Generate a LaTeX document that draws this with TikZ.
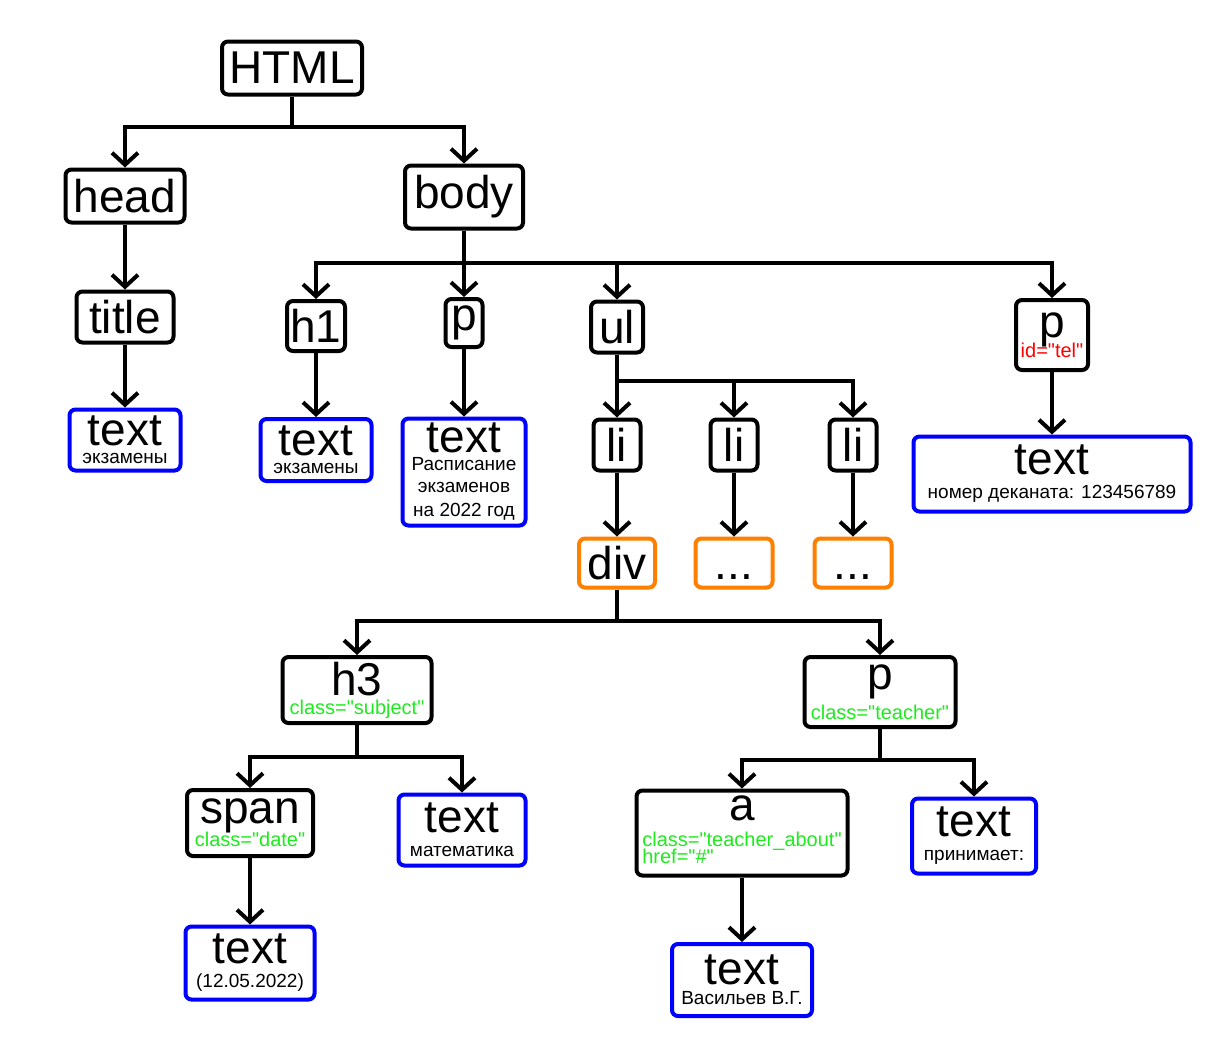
\documentclass[tikz,border=0pt]{standalone}
\usepackage{fontspec}
\setmainfont{Liberation Sans}[Ligatures=TeXOff]
\usetikzlibrary{arrows.meta}

\definecolor{txtblue}{RGB}{0,0,255}
\definecolor{blkorange}{RGB}{255,128,0}
\definecolor{attrgreen}{RGB}{30,235,30}
\definecolor{attrred}{RGB}{255,0,0}

\newcommand\smalltxt{\fontsize{9.5}{11.5}\selectfont}
\newcommand\attrtxt{\fontsize{10}{12}\selectfont}

\begin{document}
\begin{tikzpicture}[
  x=0.5pt, y=-0.5pt,
  every node/.style={font=\fontsize{23}{23}\selectfont},
  tag/.style={draw, line width=2pt, rounded corners=3pt, inner sep=0pt, align=center},
  txt/.style={tag, draw=txtblue},
  blk/.style={tag, draw=blkorange},
  wh/.style 2 args={minimum width=#1, minimum height=#2},
  arr/.style={-{Straight Barb[length=6pt, width=13pt]}, line width=2pt}
]
\useasboundingbox (0,0) rectangle (1216,1040);

% ---- ROOT ----
\node[tag, wh={70pt}{26.5pt}] (html) at (292,68) {HTML};
\node[tag, wh={59.5pt}{26.5pt}] (head) at (125,196) {head};
\node[tag, wh={59pt}{31.5pt}] (body) at (464,197) {body};

% ---- HEAD ----
\node[tag, wh={48.5pt}{25.5pt}] (title) at (125,317) {title};
\node[txt, wh={55.5pt}{30.5pt}] (titletext) at (125,440) {text\\[-14pt]\smalltxt экзамены};

% ---- BODY ----
\node[tag, wh={29pt}{25pt}] (h1) at (316,326) {h1};
\node[tag, wh={18.5pt}{24pt}] (bp) at (464,323) {p};
\node[tag, wh={26pt}{25.5pt}] (ul) at (617,327) {ul};
\node[tag, wh={36pt}{35pt}] (tel) at (1052,335) {p\\[-13pt]\attrtxt\color{attrred}id="tel"};

\node[txt, wh={55.5pt}{31pt}] (h1text) at (316,450) {text\\[-14pt]\smalltxt экзамены};
\node[txt, wh={61.5pt}{53.5pt}] (bptext) at (464,472) {text\\[-14pt]\smalltxt Расписание\\[-12pt]\smalltxt экзаменов\\[-11pt]\smalltxt на 2022 год};
\node[txt, wh={138.5pt}{37.5pt}] (teltext) at (1052,474) {text\\[-11pt]\smalltxt номер деканата: 123456789};

% ---- LIST ----
\node[tag, wh={23.5pt}{25.5pt}] (lia) at (617,445) {li};
\node[tag, wh={23.5pt}{25.5pt}] (lib) at (734,445) {li};
\node[tag, wh={23.5pt}{25.5pt}] (lic) at (853,445) {li};

\node[blk, wh={38pt}{24.5pt}] (div) at (617,563) {div};
\node[blk, wh={38.5pt}{24.5pt}] (dotsa) at (734,563) {\vphantom{div}...};
\node[blk, wh={38.5pt}{24.5pt}] (dotsb) at (853,563) {\vphantom{div}...};

% ---- DIV ----
\node[tag, wh={74.5pt}{33pt}] (h3) at (357,690) {h3\\[-13.5pt]\attrtxt\color{attrgreen}class="subject"};
\node[tag, wh={75.5pt}{35pt}] (teacher) at (880,692) {p\\[-8pt]\attrtxt\color{attrgreen}class="teacher"};

\node[tag, wh={63pt}{33pt}] (span) at (250,823) {span\\[-11.5pt]\attrtxt\color{attrgreen}class="date"};
\node[txt, wh={63.5pt}{35.5pt}] (mathtext) at (462,830) {text\\[-11pt]\smalltxt математика};
\node[tag, wh={105.5pt}{42.5pt}] (link) at (742,833) {a\\[-10pt]\attrtxt\color{attrgreen}\begin{tabular}[t]{@{}l@{}}class="teacher\_about"\\[-3.5pt]href="\#"\end{tabular}};
\node[txt, wh={62pt}{37.5pt}] (printext) at (974,836) {text\\[-11pt]\smalltxt принимает:};

\node[txt, wh={64.5pt}{36.5pt}] (datetext) at (250,963) {text\\[-11pt]\smalltxt (12.05.2022)};
\node[txt, wh={70pt}{36pt}] (vastext) at (742,980) {text\\[-13pt]\smalltxt Васильев В.Г.};

% ---- CONNECTORS ----
\draw[arr] (html.south) -- ++(0,30) -| (head.north);
\draw[arr] (html.south) -- ++(0,30) -| (body.north);
\draw[arr] (head) -- (title);
\draw[arr] (title) -- (titletext);

\foreach \t in {h1,bp,ul,tel}
  \draw[arr] (body.south) -- ++(0,32) -| (\t.north);
\draw[arr] (h1) -- (h1text);
\draw[arr] (bp) -- (bptext);
\draw[arr] (tel) -- (teltext);

\foreach \t in {lia,lib,lic}
  \draw[arr] (ul.south) -- ++(0,26) -| (\t.north);
\draw[arr] (lia) -- (div);
\draw[arr] (lib) -- (dotsa);
\draw[arr] (lic) -- (dotsb);

\draw[arr] (div.south) -- ++(0,31) -| (h3.north);
\draw[arr] (div.south) -- ++(0,31) -| (teacher.north);

\draw[arr] (h3.south) -- ++(0,32) -| (span.north);
\draw[arr] (h3.south) -- ++(0,32) -| (mathtext.north);
\draw[arr] (teacher.south) -- ++(0,31) -| (link.north);
\draw[arr] (teacher.south) -- ++(0,31) -| (printext.north);

\draw[arr] (span) -- (datetext);
\draw[arr] (link) -- (vastext);
\end{tikzpicture}
\end{document}
